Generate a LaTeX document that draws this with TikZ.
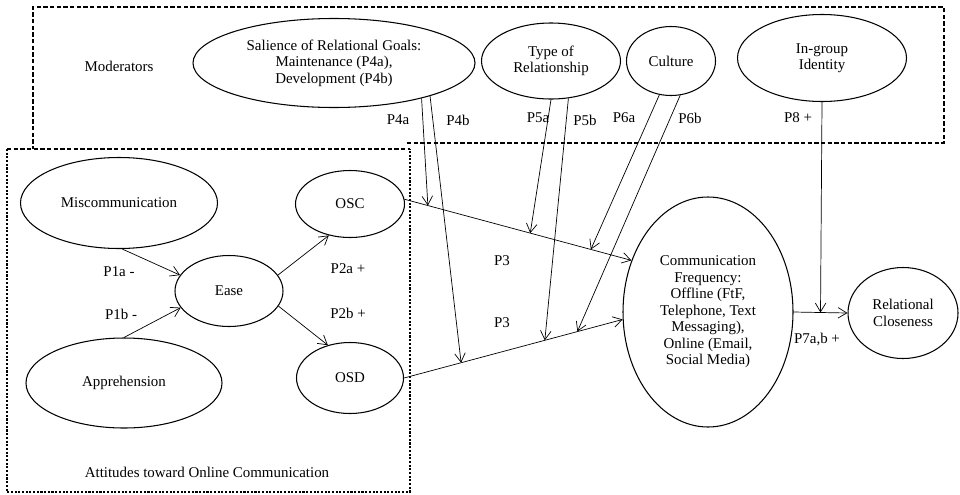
\documentclass[tikz,border=0pt]{standalone}
\usepackage{fontspec}
\setmainfont{Liberation Serif}
\usetikzlibrary{arrows.meta,shapes.geometric}

\begin{document}
\begin{tikzpicture}[x=0.2mm,y=-0.2mm,
    font=\fontsize{8.5}{9.4}\selectfont,
    ell/.style={draw,ellipse,inner sep=0pt,align=center,line width=0.6pt},
    arr/.style={-{Straight Barb[length=5pt,width=6pt]},line width=0.4pt},
    modbox/.style={dash pattern=on 2.5pt off 1.3pt,line width=0.6pt},
    attbox/.style={dash pattern=on 1.2pt off 0.9pt,line width=0.6pt}]
  \useasboundingbox (0,0) rectangle (960,494);

  % the two groups
  \draw[modbox] (407,143) -- (944,143) -- (944,7) -- (33,7) -- (33,149);
  \draw[modbox] (7,149) -- (410,149);
  \draw[attbox] (7,149) -- (7,492) -- (410,492) -- (410,149);
  \node (mod) at (119,66) {Moderators};
  \node (att) at (207,472) {Attitudes toward Online Communication};

  % moderators
  \node[ell,minimum width=56.4mm,minimum height=17.8mm] (sal) at (334,63)
    {Salience of Relational Goals:\\Maintenance (P4a),\\Development (P4b)};
  \node[ell,minimum width=27.8mm,minimum height=15.2mm] (typ) at (551,61)
    {Type of\\Relationship};
  \node[ell,minimum width=17.8mm,minimum height=13.8mm] (cul) at (671,61) {Culture};
  \node[ell,minimum width=33.8mm,minimum height=17.4mm] (ing) at (822,58)
    {In-group\\Identity};

  % attitudes
  \node[ell,minimum width=39.4mm,minimum height=18.2mm] (mis) at (119,203) {Miscommunication};
  \node[ell,minimum width=39.2mm,minimum height=18mm] (app) at (124,383) {Apprehension};
  \node[ell,minimum width=21.6mm,minimum height=14.2mm] (ease) at (229,291) {Ease};
  \node[ell,minimum width=21.8mm,minimum height=13.4mm] (osc) at (350,204) {OSC};
  \node[ell,minimum width=21.4mm,minimum height=14.2mm] (osd) at (350,378) {OSD};

  % outcomes
  \node[ell,minimum width=34mm,minimum height=46mm] (comm) at (708,312)
    {Communication\\Frequency:\\Offline (FtF,\\Telephone, Text\\Messaging),\\Online (Email,\\Social Media)};
  \node[ell,minimum width=22mm,minimum height=18.2mm] (rc) at (903,313)
    {Relational\\Closeness};

  % paths
  \draw[arr] (mis.-86) -- (ease.162);
  \draw[arr] (app.north) -- (ease.199);
  \draw[arr] (ease.18) -- (osc.-124);
  \draw[arr] (ease.-17) -- (osd.124);
  \draw[arr] (osc.5) -- coordinate[pos=0.103] (t4a) coordinate[pos=0.554] (t5a)
    coordinate[pos=0.821] (t6a) (comm.146);
  \draw[arr] (osd.east) -- coordinate[pos=0.261] (t4b) coordinate[pos=0.644] (t5b)
    coordinate[pos=0.793] (t6b) (comm.185);
  \draw[arr] (comm.east) -- coordinate[pos=0.5] (t8) (rc.west);

  \draw[arr] (sal.-22) -- (t4a);
  \draw[arr] (sal.-19) -- (t4b);
  \draw[arr] (typ.south) -- (t5a);
  \draw[arr] (typ.-65) -- (t5b);
  \draw[arr] (cul.-109) -- (t6a);
  \draw[arr] (cul.-75) -- (t6b);
  \draw[arr] (ing.south) -- (t8);

  % labels
  \node (l1a) at (119,272) {P1a -};
  \node (l1b) at (121,314) {P1b -};
  \node (l2a) at (348,269) {P2a +};
  \node (l2b) at (348,313) {P2b +};
  \node (l3a) at (502,261) {P3};
  \node (l3b) at (502,323) {P3};
  \node (l4a) at (398,120) {P4a};
  \node (l4b) at (458,120) {P4b};
  \node (l5a) at (538,118) {P5a};
  \node (l5b) at (585,120) {P5b};
  \node (l6a) at (624,118) {P6a};
  \node (l6b) at (690,118) {P6b};
  \node (l8) at (798,118) {P8 +};
  \node (l7) at (817,339) {P7a,b +};
\end{tikzpicture}
\end{document}
